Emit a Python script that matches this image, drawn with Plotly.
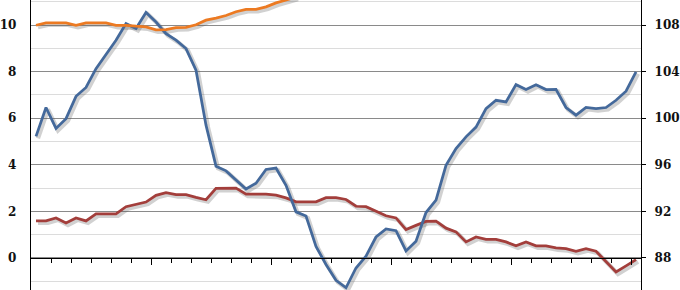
import plotly.graph_objects as go

# ---- data ----
periods = list(range(61))
blue = [5.22, 6.46, 5.56, 5.98, 6.94, 7.32, 8.13, 8.72, 9.35, 10.06,
        9.85, 10.54, 10.13, 9.63, 9.35, 8.99, 8.06, 5.70, 3.94, 3.74,
        3.37, 2.96, 3.21, 3.80, 3.86, 3.12, 1.98, 1.80, 0.50, -0.28,
        -0.96, -1.28, -0.43, 0.08, 0.90, 1.25, 1.17, 0.30, 0.72, 1.95,
        2.48, 3.98, 4.70, 5.20, 5.62, 6.41, 6.77, 6.70, 7.44, 7.23,
        7.44, 7.23, 7.24, 6.46, 6.13, 6.46, 6.41, 6.46, 6.77, 7.16, 7.99]
red = [1.59, 1.59, 1.72, 1.50, 1.72, 1.59, 1.89, 1.89, 1.89, 2.20,
       2.29, 2.40, 2.69, 2.80, 2.72, 2.72, 2.60, 2.50, 2.99, 2.99,
       3.00, 2.74, 2.74, 2.74, 2.70, 2.58, 2.41, 2.41, 2.41, 2.59,
       2.59, 2.51, 2.22, 2.20, 2.00, 1.81, 1.72, 1.22, 1.40, 1.57,
       1.58, 1.28, 1.12, 0.69, 0.90, 0.80, 0.80, 0.69, 0.52, 0.69,
       0.52, 0.52, 0.43, 0.40, 0.29, 0.40, 0.29, -0.17, -0.60, -0.34, -0.07]
orange = [107.98, 108.18, 108.18, 108.18, 107.98, 108.18, 108.18, 108.18, 107.98, 107.98,
          107.90, 107.84, 107.58, 107.60, 107.78, 107.80, 108.02, 108.42, 108.60, 108.82,
          109.14, 109.34, 109.34, 109.56, 109.90, 110.16, 110.40]
left_ticks = [0, 2, 4, 6, 8, 10]
right_ticks = [88, 92, 96, 100, 104, 108]

# ---- style ----
W, H = 680, 290
ML, MR = 31, 39
PW = W - ML - MR
Y0, Y1 = -1.375, 11.075
R0, R1 = 88 + 2 * Y0, 88 + 2 * Y1
X0, X1 = -0.5, 60.5
SDX, SDY = 2, 2  # shadow offset in px
dx = SDX * (X1 - X0) / PW
dy = SDY * (Y1 - Y0) / H
dr = SDY * (R1 - R0) / H

BLUE = "#44699b"
RED = "#a33e3b"
ORANGE = "#ec7a22"
SHADOW = "rgba(90,90,90,0.28)"
LW = 2.75
lab_font = dict(family="DejaVu Serif", size=12, color="#111111", weight="bold")

fig = go.Figure()
# shadows (base subplot, shifted ranges)
for ys in (blue, red):
    fig.add_trace(go.Scatter(x=periods[:len(ys)], y=ys, mode="lines", xaxis="x", yaxis="y",
                             line=dict(color=SHADOW, width=LW + 1.5), hoverinfo="skip", showlegend=False))
fig.add_trace(go.Scatter(x=periods[:len(orange)], y=orange, mode="lines", xaxis="x", yaxis="y4",
                         line=dict(color=SHADOW, width=LW + 1.5), hoverinfo="skip", showlegend=False))
# main lines
fig.add_trace(go.Scatter(x=periods[:len(red)], y=red, mode="lines", xaxis="x2", yaxis="y2",
                         line=dict(color=RED, width=LW), showlegend=False))
fig.add_trace(go.Scatter(x=periods[:len(blue)], y=blue, mode="lines", xaxis="x2", yaxis="y2",
                         line=dict(color=BLUE, width=LW), showlegend=False))
fig.add_trace(go.Scatter(x=periods[:len(orange)], y=orange, mode="lines", xaxis="x2", yaxis="y3",
                         line=dict(color=ORANGE, width=LW), showlegend=False))

major_x = [11.5, 23.5, 35.5, 47.5, 59.5]
minor_x = [v + 0.5 for v in range(1, 60, 2)]
zero_pos = (0 - Y0) / (Y1 - Y0)

fig.update_layout(
    width=W, height=H,
    margin=dict(l=ML, r=MR, t=0, b=0),
    paper_bgcolor="white", plot_bgcolor="white",
    showlegend=False,
    xaxis=dict(range=[X0 - dx, X1 - dx], visible=False, domain=[0, 1]),
    yaxis=dict(range=[Y0 + dy, Y1 + dy], visible=False, domain=[0, 1]),
    yaxis4=dict(range=[R0 + dr, R1 + dr], visible=False, overlaying="y"),
    xaxis2=dict(range=[X0, X1], overlaying="x", anchor="free", position=zero_pos,
                showgrid=False, zeroline=False, showticklabels=False,
                showline=True, linecolor="#000000", linewidth=1.3,
                tickmode="array", tickvals=major_x, ticks="outside", ticklen=6,
                tickcolor="#000000", tickwidth=1.3,
                minor=dict(tickmode="array", tickvals=minor_x, ticks="outside",
                           ticklen=3.5, tickcolor="#000000", tickwidth=1.3, showgrid=False)),
    yaxis2=dict(range=[Y0, Y1], overlaying="y", anchor="x2", side="left",
                tickmode="array", tickvals=left_ticks, ticks="", zeroline=False,
                showgrid=True, gridcolor="#8a8a8a", gridwidth=1,
                showline=True, linecolor="#000000", linewidth=1.3,
                tickfont=lab_font, ticklabelstandoff=11,
                minor=dict(tickmode="array", tickvals=[-1, 1, 3, 5, 7, 9, 11],
                           showgrid=True, gridcolor="#dcdcdc", gridwidth=1, ticks="")),
    yaxis3=dict(range=[R0, R1], overlaying="y", anchor="x2", side="right",
                tickmode="array", tickvals=right_ticks, ticks="outside", ticklen=4,
                tickcolor="#000000", tickwidth=1.3, showgrid=False, zeroline=False,
                showline=True, linecolor="#000000", linewidth=1.3,
                tickfont=lab_font, ticklabelstandoff=6),
)

fig.write_html("out.html")
